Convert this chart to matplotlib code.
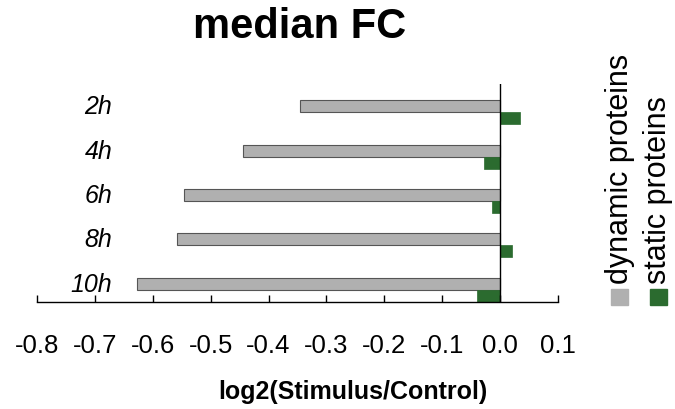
import numpy as np
from matplotlib import pyplot as plt
from matplotlib.patches import Rectangle

# Data
times = ['2h', '4h', '6h', '8h', '10h']
dynamic = [-0.345, -0.445, -0.546, -0.558, -0.627]
static = [0.035, -0.028, -0.014, 0.020, -0.040]
xticks = [-0.8, -0.7, -0.6, -0.5, -0.4, -0.3, -0.2, -0.1, 0.0, 0.1]

gray = '#b0b0b0'
green = '#2b6b2f'

plt.rcParams['font.family'] = ['Liberation Sans', 'DejaVu Sans']

fig = plt.figure(figsize=(6.75, 4.1), dpi=100)
ax = fig.add_axes([37 / 675, 1 - 303 / 410, 521 / 675, 218 / 410])

y = np.arange(len(times))
h = 0.27
ax.barh(y - h / 2, dynamic, height=h, color=gray, edgecolor='#555555', linewidth=0.8)
ax.barh(y + h / 2, static, height=h, color=green, edgecolor=green, linewidth=0.5)
ax.axvline(0, color='black', lw=1.0, zorder=3)

ax.set_xlim(-0.8, 0.1)
ax.set_ylim(4.28, -0.64)
ax.set_xticks(xticks)
ax.set_xticklabels(['%.1f' % v for v in xticks], fontsize=18.5)
ax.tick_params(axis='x', direction='in', length=5, width=1, pad=22)
ax.set_yticks([])
for s in ['left', 'top', 'right']:
    ax.spines[s].set_visible(False)
ax.spines['bottom'].set_linewidth(1.0)

# category labels inside the plot area
for i, t in enumerate(times):
    ax.text(-0.67, i - h / 2, t, ha='right', va='center', fontsize=18, style='italic')

ax.set_xlabel('log2(Stimulus/Control)', fontsize=18, fontweight='bold',
              labelpad=16, x=(353 - 37) / 521)
fig.text(300 / 675, 1 - 27 / 410, 'median FC', ha='center', va='center',
         fontsize=30, fontweight='bold')

# vertical legend on the right
fig.text(620 / 675, 1 - 284 / 410, 'dynamic proteins', rotation=90,
         ha='center', va='bottom', fontsize=22)
fig.text(658 / 675, 1 - 284 / 410, 'static proteins', rotation=90,
         ha='center', va='bottom', fontsize=22)
fig.patches.append(Rectangle((611 / 675, 1 - 306 / 410), 17 / 675, 16 / 410,
                             transform=fig.transFigure, color=gray))
fig.patches.append(Rectangle((650 / 675, 1 - 306 / 410), 17 / 675, 16 / 410,
                             transform=fig.transFigure, color=green))

fig.savefig('out.png', dpi=100)
